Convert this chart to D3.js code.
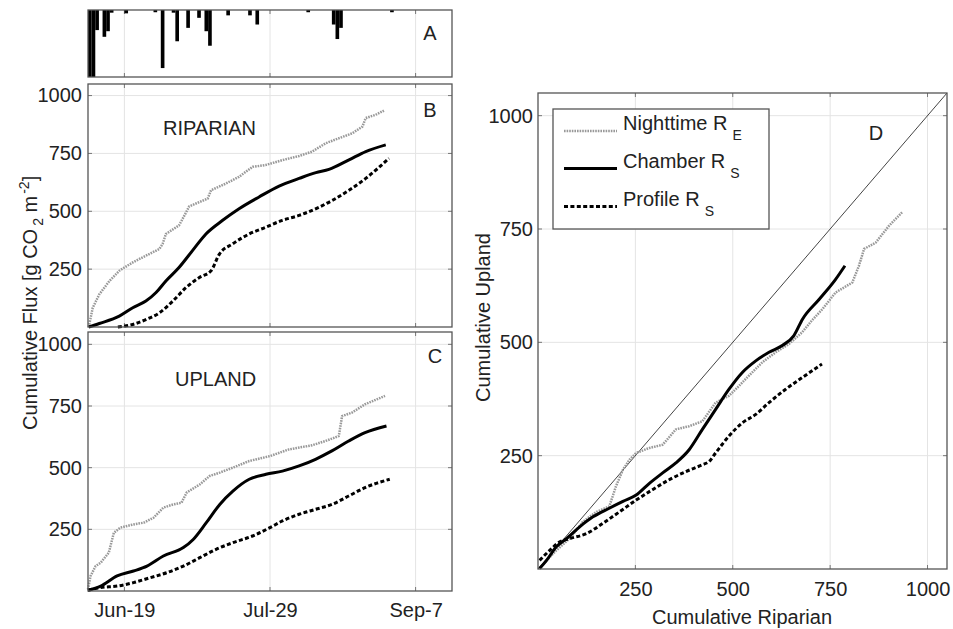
<!DOCTYPE html>
<html>
<head>
<meta charset="utf-8">
<script src="https://cdn.jsdelivr.net/npm/d3@7"></script>
<style>
  html, body { margin: 0; padding: 0; background: #fff; }
  svg { display: block; font-family: "Liberation Sans", Arial, sans-serif; }
</style>
</head>
<body>
<div id="chart"></div>
<script>
// day of year for each daily precip bar, and depth (mm)
const precipDays = [160, 161, 162, 164, 165, 166, 170, 178, 180, 183, 184, 187, 190, 192, 193, 198, 204, 206, 220, 227, 228, 229, 243];
const precipMm = [30, 30, 9, 12, 9.5, 1.2, 1.5, 1, 26, 1.2, 14, 8, 3.5, 9.5, 16, 2.4, 2.4, 6.5, 1, 6.5, 13, 8, 1];

// date axis
const dateTicks = [170, 210, 250];
const dateLabels = ['Jun-19', 'Jul-29', 'Sep-7'];
const fluxTicks = [250, 500, 750, 1000];

// B: riparian cumulative flux
const ripNightDays = [160.2, 161.3, 163.1, 165.9, 168.6, 170, 172.3, 175, 177.8, 179.6, 180.5, 181.4, 185, 186.5, 187.8, 190.6, 192.9, 193.8, 197.9, 201.5, 205.2, 208.8, 213.4, 218, 221.6, 225.3, 229, 232.6, 235.4, 236.3, 239, 241.3];
const ripNightVals = [0, 83, 141, 199, 243, 257, 279, 301, 323, 337, 359, 402, 439, 482, 521, 540, 555, 591, 620, 649, 692, 700, 721, 739, 758, 794, 816, 837, 866, 903, 917, 935];
const ripChamberDays = [160.2, 163.1, 168.6, 172.3, 175.9, 178.7, 181.4, 185, 188.7, 192.4, 197, 201.5, 207, 212.5, 218, 222.6, 226.2, 231.7, 236.3, 241.8];
const ripChamberVals = [0, 15, 47, 83, 112, 149, 199, 257, 330, 402, 461, 511, 562, 609, 642, 667, 681, 722, 758, 787];
const ripProfileDays = [168.2, 172.3, 175.9, 179.6, 183.3, 186.9, 190.6, 193.8, 196.1, 199.7, 204.3, 208.8, 213.4, 218, 223.5, 227.1, 231.7, 236.3, 242.7];
const ripProfileVals = [0, 11, 32, 61, 112, 170, 214, 243, 315, 359, 402, 431, 461, 482, 518, 547, 591, 642, 729];

// C: upland cumulative flux
const upNightDays = [160, 160.7, 162.1, 163.5, 165.7, 167.1, 168.9, 172.5, 175.3, 178, 180.7, 183.4, 185.7, 187.1, 190.7, 193.4, 196.2, 199.8, 204.3, 210, 215.2, 221.6, 225.2, 228.9, 229.8, 232.5, 236.1, 241.6];
const upNightVals = [7, 61, 101, 115, 155, 236, 257, 270, 277, 297, 338, 351, 358, 399, 432, 466, 480, 500, 527, 547, 574, 591, 608, 628, 709, 723, 757, 791];
const upChamberDays = [160, 163.5, 168, 172.5, 176.2, 180.7, 186.2, 188.9, 192.5, 196.2, 199.8, 204.3, 208.9, 213.4, 218, 222.5, 227, 231.6, 236.1, 242];
const upChamberVals = [3, 20, 61, 81, 101, 142, 176, 209, 277, 351, 405, 453, 473, 486, 507, 534, 568, 608, 642, 669];
const upProfileDays = [160, 163.5, 168, 172.5, 177.1, 181.6, 186.2, 190.7, 195.2, 199.8, 205.2, 210, 213.4, 218, 222.5, 227, 231.6, 236.1, 242.9];
const upProfileVals = [3, 14, 20, 34, 54, 74, 101, 135, 169, 196, 223, 257, 284, 311, 331, 351, 385, 419, 453];

// D: upland vs riparian
const cmpNightRip = [4, 22, 47, 81, 115, 150, 183, 200, 218, 235, 252, 286, 320, 354, 388, 422, 456, 490, 507, 541, 576, 610, 644, 678, 703, 730, 764, 807, 824, 837, 867, 901, 935];
const cmpNightUp = [1, 19, 41, 67, 104, 126, 138, 182, 219, 241, 256, 267, 274, 308, 315, 326, 367, 382, 396, 426, 456, 478, 496, 522, 548, 573, 610, 632, 669, 706, 720, 757, 787];
const cmpChamberRip = [4, 22, 47, 73, 107, 141, 183, 218, 252, 286, 320, 354, 388, 422, 456, 490, 524, 559, 593, 627, 657, 679, 722, 764, 788];
const cmpChamberUp = [1, 19, 49, 67, 93, 115, 134, 149, 163, 189, 212, 234, 263, 308, 352, 396, 433, 459, 478, 493, 515, 551, 595, 639, 669];
const cmpProfileRip = [4, 30, 56, 81, 124, 167, 209, 252, 294, 337, 380, 422, 439, 456, 490, 524, 559, 593, 635, 678, 729];
const cmpProfileUp = [19, 41, 60, 67, 78, 101, 126, 152, 175, 197, 215, 230, 237, 256, 293, 322, 341, 367, 396, 422, 452];
const oneToOne = [0, 1050];

const legendLabels = [['Nighttime R', 'E'], ['Chamber R', 'S'], ['Profile R', 'S']];

const W = 953, H = 629;
const textColor = '#222';
const boxColor = '#555';
const gridColor = '#e4e4e4';
const styles = {
    night: { stroke: '#999', width: 2.5, dash: '1.6,1' },
    chamber: { stroke: '#000', width: 3, dash: null },
    profile: { stroke: '#000', width: 3, dash: '4,2.4' }
};

const svg = d3.select('#chart').append('svg')
    .attr('width', W).attr('height', H);

const pA = { left: 88, right: 452, top: 10, bottom: 77 };
const pB = { left: 88, right: 452, top: 84, bottom: 327 };
const pC = { left: 88, right: 452, top: 332, bottom: 591 };
const pD = { left: 538, right: 947, top: 93, bottom: 569 };

const xDay = d3.scaleLinear().domain([160, 260]).range([pA.left, pA.right]);
const yPrecip = d3.scaleLinear().domain([0, 30]).range([pA.top, pA.bottom]);
const yB = d3.scaleLinear().domain([0, 1050]).range([pB.bottom, pB.top]);
const yC = d3.scaleLinear().domain([0, 1050]).range([pC.bottom, pC.top]);
const xD = d3.scaleLinear().domain([0, 1050]).range([pD.left, pD.right]);
const yD = d3.scaleLinear().domain([0, 1050]).range([pD.bottom, pD.top]);
const fmt = d3.format('d');

// grid lines, inner tick marks and the frame
function drawFrame(p, xs, xVals, ys, yVals) {
    const g = svg.append('g');
    g.selectAll('.gx').data(xVals).enter().append('line')
        .attr('x1', d => xs(d)).attr('x2', d => xs(d))
        .attr('y1', p.top).attr('y2', p.bottom)
        .attr('stroke', gridColor).attr('stroke-width', 1);
    g.selectAll('.gy').data(yVals).enter().append('line')
        .attr('x1', p.left).attr('x2', p.right)
        .attr('y1', d => ys(d)).attr('y2', d => ys(d))
        .attr('stroke', gridColor).attr('stroke-width', 1);
    const tl = 4;
    xVals.forEach(v => {
        g.append('line').attr('x1', xs(v)).attr('x2', xs(v)).attr('y1', p.bottom).attr('y2', p.bottom - tl)
            .attr('stroke', '#777');
        g.append('line').attr('x1', xs(v)).attr('x2', xs(v)).attr('y1', p.top).attr('y2', p.top + tl)
            .attr('stroke', '#777');
    });
    yVals.forEach(v => {
        g.append('line').attr('x1', p.left).attr('x2', p.left + tl).attr('y1', ys(v)).attr('y2', ys(v))
            .attr('stroke', '#777');
        g.append('line').attr('x1', p.right).attr('x2', p.right - tl).attr('y1', ys(v)).attr('y2', ys(v))
            .attr('stroke', '#777');
    });
    return g;
}

function drawBox(p) {
    svg.append('rect')
        .attr('x', p.left).attr('y', p.top)
        .attr('width', p.right - p.left).attr('height', p.bottom - p.top)
        .attr('fill', 'none').attr('stroke', boxColor).attr('stroke-width', 1.3);
}

function drawSeries(xs, ys, xVals, yVals, st, curve) {
    const pts = xVals.map((x, i) => [x, yVals[i]]);
    const line = d3.line().x(d => xs(d[0])).y(d => ys(d[1])).curve(curve || d3.curveLinear);
    svg.append('path')
        .attr('d', line(pts))
        .attr('fill', 'none')
        .attr('stroke', st.stroke)
        .attr('stroke-width', st.width)
        .attr('stroke-dasharray', st.dash)
        .attr('stroke-linejoin', 'round');
}

function label(x, y, txt, anchor) {
    return svg.append('text')
        .attr('x', x).attr('y', y)
        .attr('text-anchor', anchor || 'start')
        .attr('font-size', 20).attr('fill', textColor)
        .text(txt);
}

function yAxisLabels(ys, x) {
    const ax = d3.axisLeft(ys).tickValues(fluxTicks).tickFormat(fmt).tickSize(0).tickPadding(0);
    const g = svg.append('g').attr('transform', `translate(${x},0)`).call(ax);
    g.select('.domain').remove();
    g.selectAll('text').attr('font-size', 20).attr('font-family', null).attr('fill', textColor);
}

// A: precipitation
drawFrame(pA, xDay, dateTicks, yPrecip, []);
svg.append('g').selectAll('rect')
    .data(precipDays.map((d, i) => ({ day: d, mm: precipMm[i] })))
    .enter().append('rect')
    .attr('x', d => xDay(d.day))
    .attr('y', pA.top)
    .attr('width', d => xDay(d.day + 1) - xDay(d.day))
    .attr('height', d => yPrecip(d.mm) - pA.top)
    .attr('fill', '#000');
drawBox(pA);
label(430, 40, 'A', 'middle');

// B: riparian
drawFrame(pB, xDay, dateTicks, yB, fluxTicks);
drawSeries(xDay, yB, ripNightDays, ripNightVals, styles.night);
drawSeries(xDay, yB, ripChamberDays, ripChamberVals, styles.chamber, d3.curveMonotoneX);
drawSeries(xDay, yB, ripProfileDays, ripProfileVals, styles.profile, d3.curveMonotoneX);
drawBox(pB);
yAxisLabels(yB, 82);
label(430, 117, 'B', 'middle');
label(163, 135, 'RIPARIAN');

// C: upland
drawFrame(pC, xDay, dateTicks, yC, fluxTicks);
drawSeries(xDay, yC, upNightDays, upNightVals, styles.night);
drawSeries(xDay, yC, upChamberDays, upChamberVals, styles.chamber, d3.curveMonotoneX);
drawSeries(xDay, yC, upProfileDays, upProfileVals, styles.profile, d3.curveMonotoneX);
drawBox(pC);
yAxisLabels(yC, 82);
label(435, 363, 'C', 'middle');
label(175, 386, 'UPLAND');

const xAxC = d3.axisBottom(xDay).tickValues(dateTicks)
    .tickFormat((d, i) => dateLabels[i]).tickSize(0).tickPadding(0);
const gxC = svg.append('g').attr('transform', `translate(0,${pC.bottom})`).call(xAxC);
gxC.select('.domain').remove();
gxC.selectAll('text').attr('font-size', 20).attr('font-family', null).attr('fill', textColor)
    .attr('dy', null).attr('y', 26);

// shared y label for B and C
const yl = svg.append('text')
    .attr('transform', 'rotate(-90)')
    .attr('x', -430).attr('y', 36.5)
    .attr('font-size', 20).attr('fill', textColor);
yl.append('tspan').text('Cumulative Flux [g CO');
yl.append('tspan').attr('dx', 3).attr('dy', 6).attr('font-size', 14).text('2');
yl.append('tspan').attr('dy', -6).text(' m');
yl.append('tspan').attr('dx', 2).attr('dy', -8).attr('font-size', 14).text('-2');
yl.append('tspan').attr('dy', 8).text(']');

// D: upland vs riparian
drawFrame(pD, xD, fluxTicks, yD, fluxTicks);
svg.append('line')
    .attr('x1', xD(oneToOne[0])).attr('y1', yD(oneToOne[0]))
    .attr('x2', xD(oneToOne[1])).attr('y2', yD(oneToOne[1]))
    .attr('stroke', '#444').attr('stroke-width', 1);
drawSeries(xD, yD, cmpNightRip, cmpNightUp, styles.night);
drawSeries(xD, yD, cmpChamberRip, cmpChamberUp, styles.chamber, d3.curveMonotoneX);
drawSeries(xD, yD, cmpProfileRip, cmpProfileUp, styles.profile, d3.curveMonotoneX);
drawBox(pD);
yAxisLabels(yD, 533);

const xAxD = d3.axisBottom(xD).tickValues(fluxTicks).tickFormat(fmt).tickSize(0).tickPadding(0);
const gxD = svg.append('g').attr('transform', `translate(0,${pD.bottom})`).call(xAxD);
gxD.select('.domain').remove();
gxD.selectAll('text').attr('font-size', 20).attr('font-family', null).attr('fill', textColor)
    .attr('dy', null).attr('y', 27);

label(742, 624, 'Cumulative Riparian', 'middle');
svg.append('text')
    .attr('transform', 'rotate(-90)')
    .attr('x', -402).attr('y', 489.5)
    .attr('font-size', 20).attr('fill', textColor)
    .text('Cumulative Upland');
label(876, 140, 'D', 'middle');

// legend
const lg = svg.append('g');
lg.append('rect')
    .attr('x', 553).attr('y', 109).attr('width', 216).attr('height', 120)
    .attr('fill', '#fff').attr('stroke', boxColor).attr('stroke-width', 1.3);
const legendStyles = [styles.night, styles.chamber, styles.profile];
const rowY = [131, 168.5, 206.5];
const textY = [130, 167.5, 205.5];
legendLabels.forEach((lab, i) => {
    const st = legendStyles[i];
    lg.append('line')
        .attr('x1', 564).attr('x2', 617)
        .attr('y1', rowY[i]).attr('y2', rowY[i])
        .attr('stroke', st.stroke).attr('stroke-width', st.width)
        .attr('stroke-dasharray', st.dash);
    const t = lg.append('text')
        .attr('x', 623).attr('y', textY[i])
        .attr('font-size', 20).attr('fill', textColor);
    t.append('tspan').text(lab[0]);
    t.append('tspan').attr('dx', 5).attr('dy', 10).attr('font-size', 14).text(lab[1]);
});
</script>
</body>
</html>
